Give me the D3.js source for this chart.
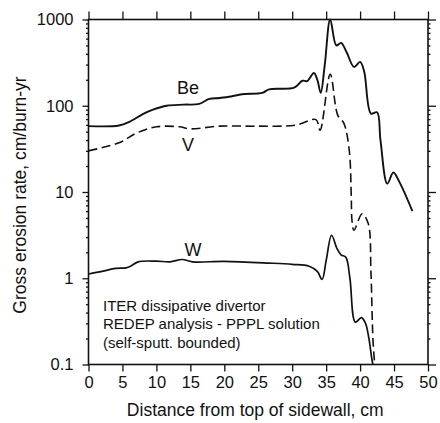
<!DOCTYPE html>
<html><head><meta charset="utf-8">
<script src="https://cdn.jsdelivr.net/npm/d3@7"></script>
<style>body{margin:0;background:#fff}svg{display:block}text{font-family:"Liberation Sans",Arial,Helvetica,sans-serif;fill:#111}</style>
</head><body><svg id="c" width="440" height="423"></svg>
<script>
const beX = [0,4.5,6,8,9.5,11.5,14,16.3,17.8,19.3,21,22.6,25.6,26.6,30.3,31.5,32.2,33.2,33.7,34.2,34.8,35.6,36.5,37.2,38,39.1,40,40.6,41.6,42.5,43,44,44.9,45.8,47.7];
const beY = [58,59,65,80,90,100,103,105,120,123,128,136,141,155,162,195,193,240,200,141,300,1000,500,535,420,282,322,250,81,84,40,12.5,16.8,13,6];
const vX = [0,4.6,7,10,13.4,14.9,19.3,24.7,30.5,33.5,34.1,35.6,36.7,37.6,38.4,38.7,38.8,39.1,40.3,41.2,41.6,41.9,42.2];
const vY = [30,37.5,48,57,57,54,58,58,59.5,69,52,232,78,63,30.5,8.8,4.7,3.6,5.6,4.3,1.15,0.19,0.09];
const wX = [0,2,4,5.5,6.2,7.3,10,12,13.8,15.3,20,26.6,30,32.5,33.7,34.4,35,35.8,36.6,37.2,37.9,38.5,39.3,40.2,40.8,41.3,41.9,42.2];
const wY = [1.12,1.2,1.3,1.32,1.38,1.55,1.58,1.55,1.65,1.55,1.57,1.5,1.45,1.38,1.2,0.97,1.6,3.15,2.2,1.87,1.75,1.0,0.31,0.35,0.3,0.2,0.1,0.09];
const xTicks = [0,5,10,15,20,25,30,35,40,45,50];
const yTicks = [0.1,1,10,100,1000];
const yTickLabels = ["0.1","1","10","100","1000"];
const seriesLabels = ["Be","V","W"];
const note = ["ITER dissipative divertor","REDEP analysis - PPPL solution","(self-sputt. bounded)"];
const xTitle = "Distance from top of sidewall, cm";
const yTitle = "Gross erosion rate, cm/burn-yr";

const svg = d3.select("#c");
const L=88.5, R=428, T=19.5, B=364.5;
const x = d3.scaleLinear().domain([0,50]).range([L,R]);
const y = d3.scaleLog().domain([0.1,1000]).range([B,T]);

svg.append("clipPath").attr("id","clip").append("rect").attr("x",L).attr("y",T-1).attr("width",R-L).attr("height",B-T+1);

const minor = [];
[0.1,1,10,100].forEach(d=>{for(let k=2;k<=9;k++)minor.push(d*k);});

// frame
svg.append("rect").attr("x",L).attr("y",T).attr("width",R-L).attr("height",B-T).attr("fill","none").attr("stroke","#111").attr("stroke-width",1.6);

// axes
const bx = svg.append("g").attr("transform",`translate(0,${B})`).call(d3.axisBottom(x).tickValues(xTicks).tickSize(7).tickPadding(5).tickFormat(d3.format("d")));
const tx = svg.append("g").attr("transform",`translate(0,${T})`).call(d3.axisTop(x).tickValues(xTicks).tickSize(8).tickFormat(""));
const ly = svg.append("g").attr("transform",`translate(${L},0)`).call(d3.axisLeft(y).tickValues(yTicks).tickSize(6).tickPadding(9).tickFormat((d,i)=>yTickLabels[i]));
const lym = svg.append("g").attr("transform",`translate(${L},0)`).call(d3.axisLeft(y).tickValues(minor).tickSize(2.5).tickFormat(""));
const ry = svg.append("g").attr("transform",`translate(${R},0)`).call(d3.axisRight(y).tickValues(yTicks).tickSize(8).tickFormat(""));
const rym = svg.append("g").attr("transform",`translate(${R},0)`).call(d3.axisRight(y).tickValues(minor).tickSize(2.5).tickFormat(""));
[bx,tx,ly,lym,ry,rym].forEach(g=>{g.select(".domain").remove();g.selectAll("line").attr("stroke","#111").attr("stroke-width",1.3);g.selectAll("text").style("font-size","16.5px").attr("fill","#111");});

const line = d3.line().x(d=>x(d[0])).y(d=>y(d[1])).curve(d3.curveCatmullRom.alpha(0.5));
const plot = svg.append("g").attr("clip-path","url(#clip)");
const series = [
  {xs:beX, ys:beY, dash:null, w:1.9},
  {xs:vX, ys:vY, dash:"9,4.5", w:1.6},
  {xs:wX, ys:wY, dash:null, w:1.7}
];
series.forEach(s=>{
  plot.append("path").datum(s.xs.map((v,i)=>[v,s.ys[i]])).attr("d",line).attr("fill","none").attr("stroke","#111").attr("stroke-width",s.w).attr("stroke-dasharray",s.dash);
});

// series labels
const lblPos = [[188,94],[188,151],[193,256]];
seriesLabels.forEach((t,i)=>svg.append("text").attr("x",lblPos[i][0]).attr("y",lblPos[i][1]).attr("text-anchor","middle").style("font-size","18px").text(t));

// annotation
note.forEach((t,i)=>svg.append("text").attr("x",103).attr("y",311+i*18.3).style("font-size","15px").text(t));

svg.append("text").attr("x",(L+R)/2-3).attr("y",416).attr("text-anchor","middle").style("font-size","17.5px").text(xTitle);
svg.append("text").attr("transform",`translate(26,${(T+B)/2+3}) rotate(-90)`).attr("text-anchor","middle").style("font-size","17.5px").text(yTitle);
</script></body></html>
